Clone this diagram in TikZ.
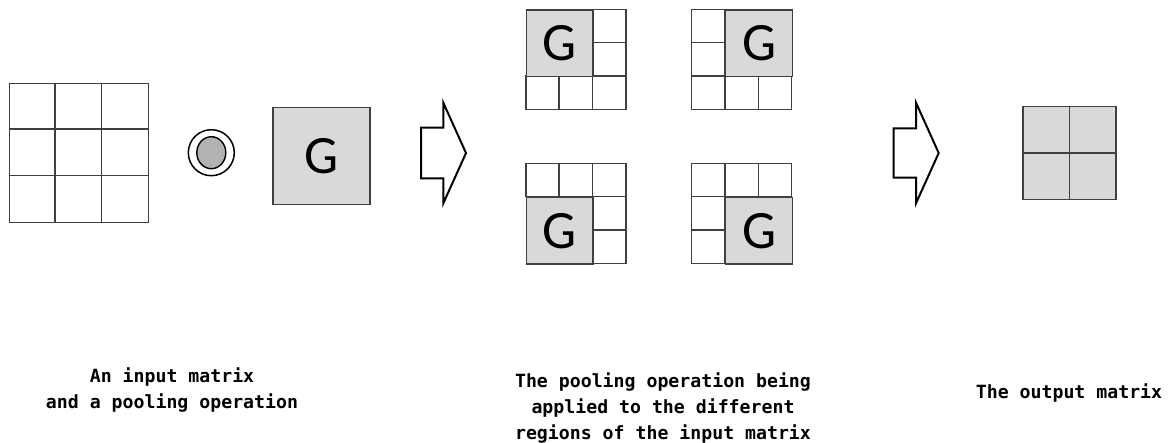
\documentclass[tikz,border=0pt]{standalone}
\usepackage{fontspec}
\usetikzlibrary{shapes.geometric}
\newfontfamily\glyphfont{Carlito}
\newfontfamily\capfont{DejaVu Sans Mono}
\begin{document}
\begin{tikzpicture}[x=1pt,y=-1pt,
  gridline/.style={draw=black!75,line width=1.4pt},
  graycell/.style={gridline,fill=black!15},
  gbox/.style={graycell,inner sep=0pt,font=\glyphfont\fontsize{54}{54}\selectfont},
  blockarrow/.style={draw=black,line width=2pt,line join=miter},
  caption/.style={align=center,font=\capfont\bfseries\fontsize{18.2}{26.3}\selectfont,inner sep=0pt}]
\useasboundingbox (0,0) rectangle (1174,442);

% a 3x3 grid of 33.3-unit cells with a 2x2 shaded window at column #3, row #4
\newcommand{\poolgrid}[4]{%
  \begin{scope}[shift={#2}]
    \foreach \c in {0,1,2} {
      \foreach \r in {0,1,2} {
        \pgfmathtruncatemacro\inwin{(\c>=#3)&&(\c<=#3+1)&&(\r>=#4)&&(\r<=#4+1)}
        \ifnum\inwin=0
          \draw[gridline] (\c*33.333,\r*33.333) rectangle ++(33.333,33.333);
        \fi
      }
    }
    \node[gbox,minimum size=66.667pt,anchor=north west] (#1) at (#3*33.333,#4*33.333) {G};
  \end{scope}}

% input matrix
\node[gridline,minimum size=139pt,inner sep=0pt] (input) at (79,153) {};
\draw[gridline] (input.north west) ++(46.33,0) -- ++(0,139)
                (input.north west) ++(92.67,0) -- ++(0,139)
                (input.north west) ++(0,46.33) -- ++(139,0)
                (input.north west) ++(0,92.67) -- ++(139,0);

% pooling operator symbol
\node[circle,draw=black,line width=1.5pt,minimum size=46pt,inner sep=0pt] (op) at (211.3,152.7) {};
\node[ellipse,draw=black,line width=1.4pt,fill=black!30,minimum width=29pt,minimum height=32pt,inner sep=0pt] (opin) at (op.center) {};

% pooling function
\node[gbox,minimum size=97pt] (pool) at (321.5,156) {G};

% first block arrow
\draw[blockarrow] (421,127.7) -- (443.3,127.7) -- (443.3,102.7) -- (466,153)
  -- (443.3,203.3) -- (443.3,178.3) -- (421,178.3) -- cycle;

% pooling applied to the four regions
\poolgrid{tl}{(525.8,9.3)}{0}{0}
\poolgrid{tr}{(691.7,9.3)}{1}{0}
\poolgrid{bl}{(525.8,163.3)}{0}{1}
\poolgrid{br}{(691.7,163.3)}{1}{1}

% second block arrow
\draw[blockarrow] (893.7,128.3) -- (916,128.3) -- (916,102.7) -- (938.7,153)
  -- (916,203.3) -- (916,177.7) -- (893.7,177.7) -- cycle;

% output matrix
\node[graycell,minimum size=93pt,inner sep=0pt] (output) at (1069.5,153) {};
\draw[gridline] (output.north) -- (output.south) (output.west) -- (output.east);

% captions
\node[caption] (capA) at (172,390) {An input matrix\\and a pooling operation};
\node[caption] (capB) at (663,408) {The pooling operation being\\applied to the different\\regions of the input matrix};
\node[caption] (capC) at (1069,393) {The output matrix};
\end{tikzpicture}
\end{document}
